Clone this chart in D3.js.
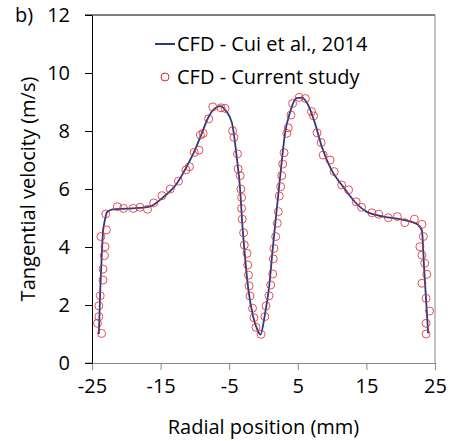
<!DOCTYPE html>
<html lang="en">
<head>
  <meta charset="UTF-8" />
  <title>Tangential velocity</title>
  <script src="https://d3js.org/d3.v7.min.js"></script>
  <style>
    body {
      margin: 0;
      padding: 0;
      background: #fff;
    }
    svg text {
      font-family: "Open Sans", sans-serif;
      fill: #000;
    }
  </style>
</head>
<body>
  <div id="chart"></div>

  <script>
    // reference curve (CFD - Cui et al., 2014)
    const cuiX = [-24.0, -23.8, -23.6, -23.4, -23.1, -22.8, -22.0, -20.0, -18.0, -16.5, -14.6, -12.6, -11.2, -10.0, -9.0, -8.1, -7.1, -6.3, -5.5, -4.6, -3.9, -3.4, -3.1, -2.7, -2.2, -1.5, -0.9, -0.45, 0.2, 0.85, 1.3, 1.8, 2.3, 2.65, 3.1, 3.9, 4.8, 5.6, 6.5, 7.5, 8.5, 9.9, 11.6, 13.3, 15.0, 17.5, 19.9, 21.8, 22.6, 23.1, 23.4, 23.7, 24.0];
    const cuiY = [1.0, 2.5, 3.6, 4.5, 4.95, 5.2, 5.3, 5.32, 5.35, 5.4, 5.72, 6.2, 6.77, 7.34, 7.92, 8.44, 8.78, 8.86, 8.7, 8.28, 7.1, 5.97, 4.82, 3.67, 2.52, 1.59, 1.15, 0.98, 1.66, 2.69, 3.83, 5.0, 6.14, 6.93, 7.86, 8.67, 9.13, 9.15, 8.9, 8.27, 7.46, 6.66, 6.08, 5.56, 5.22, 5.05, 4.96, 4.85, 4.75, 4.55, 3.32, 2.17, 1.02];

    // current study points
    const curX = [-23.6, -24.2, -24.0, -24.0, -23.8, -23.4, -23.4, -23.2, -23.1, -23.7, -22.9, -23.0,
      -21.3, -20.4, -19.0, -18.0, -16.9, -16.0, -14.8, -13.6, -12.4, -11.3, -10.8, -10.1, -9.4, -9.2, -8.8, -8.0, -7.4, -6.2, -5.6,
      -4.5, -4.3, -3.8, -3.7, -3.4, -3.3, -3.2, -3.2, -3.1, -2.9, -2.8, -2.4, -2.3, -2.2, -2.1, -1.97, -1.6, -1.4, -1.1, -0.36,
      0.2, 0.36, 0.8, 1.05, 1.34, 1.43, 1.53, 1.78, 2.0, 2.16, 2.3, 2.5, 2.65, 2.8, 3.0, 3.4, 3.6, 4.0, 4.25, 5.2, 6.1,
      7.0, 7.3, 7.8, 8.4, 8.7, 9.7, 10.3, 11.4, 12.4, 13.5, 14.3, 15.8, 16.8, 18.2, 19.5, 20.6, 22.0,
      23.1, 23.3, 22.8, 23.1, 23.5, 23.8, 23.1, 23.7, 24.2, 23.7, 23.7];
    const curY = [1.02, 1.37, 1.60, 1.97, 2.32, 2.86, 3.24, 3.70, 4.01, 4.36, 4.59, 5.14,
      5.39, 5.33, 5.33, 5.37, 5.30, 5.52, 5.77, 6.0, 6.27, 6.66, 6.77, 7.26, 7.34, 7.86, 7.92, 8.42, 8.83, 8.8, 8.78,
      8.01, 7.78, 7.21, 6.69, 6.46, 6.0, 5.71, 5.33, 4.96, 4.49, 4.07, 3.78, 3.38, 3.03, 2.66, 2.31, 1.89, 1.56, 1.23, 0.99,
      1.6, 1.97, 2.32, 2.69, 3.07, 3.59, 3.95, 4.36, 4.82, 5.22, 5.76, 6.08, 6.46, 6.86, 7.25, 7.92, 8.11, 8.55, 8.95, 9.16, 9.12,
      8.67, 8.52, 7.94, 7.6, 7.17, 7.0, 6.6, 6.14, 5.97, 5.56, 5.37, 5.18, 5.13, 5.01, 5.05, 4.84, 4.96,
      4.78, 4.36, 4.01, 3.72, 3.44, 3.06, 2.75, 2.23, 1.79, 1.37, 1.0];

    const xTicks = [-25, -15, -5, 5, 15, 25];
    const yTicks = [0, 2, 4, 6, 8, 10, 12];

    const width = 454, height = 441;
    const margin = { top: 15, right: 19, bottom: 78, left: 92 };
    const fs = "20px";

    const svg = d3.select("#chart").append("svg")
      .attr("width", width)
      .attr("height", height);

    const x = d3.scaleLinear().domain([-25, 25]).range([margin.left, width - margin.right]);
    const y = d3.scaleLinear().domain([0, 12]).range([height - margin.bottom, margin.top]);

    // top and right frame lines
    svg.append("line")
      .attr("x1", x(-25) - 7).attr("x2", x(25))
      .attr("y1", y(12)).attr("y2", y(12))
      .attr("stroke", "#000").attr("stroke-width", 1);
    svg.append("line")
      .attr("x1", x(25)).attr("x2", x(25))
      .attr("y1", y(12)).attr("y2", y(0))
      .attr("stroke", "#888").attr("stroke-width", 1);

    // x axis
    const xAxis = svg.append("g")
      .attr("transform", `translate(0,${y(0)})`)
      .call(d3.axisBottom(x).tickValues(xTicks).tickFormat(d => String(d))
        .tickSize(7).tickPadding(9).tickSizeOuter(0));
    xAxis.select(".domain").attr("stroke", "#888");
    xAxis.selectAll(".tick line").attr("stroke", "#888");
    xAxis.selectAll("text").style("font-size", fs);
    // small extension of the x axis to the left
    svg.append("line")
      .attr("x1", x(-25) - 7).attr("x2", x(-25))
      .attr("y1", y(0)).attr("y2", y(0))
      .attr("stroke", "#888");

    // y axis
    const yAxis = svg.append("g")
      .attr("transform", `translate(${x(-25)},0)`)
      .call(d3.axisLeft(y).tickValues(yTicks).tickFormat(d => String(d))
        .tickSize(7).tickPadding(15).tickSizeOuter(0));
    yAxis.select(".domain").attr("stroke", "#000");
    yAxis.selectAll(".tick line").attr("stroke", "#000");
    yAxis.selectAll("text").style("font-size", fs);

    // axis titles
    svg.append("text")
      .attr("x", (x(-25) + x(25)) / 2)
      .attr("y", 434)
      .attr("text-anchor", "middle")
      .style("font-size", fs)
      .text("Radial position (mm)");

    svg.append("text")
      .attr("transform", `translate(35,${(y(0) + y(12)) / 2}) rotate(-90)`)
      .attr("text-anchor", "middle")
      .style("font-size", fs)
      .text("Tangential velocity (m/s)");

    svg.append("text")
      .attr("x", 15)
      .attr("y", 22)
      .style("font-size", fs)
      .text("b)");

    // curve
    const cuiData = cuiX.map((v, i) => [v, cuiY[i]]);
    const line = d3.line()
      .x(d => x(d[0]))
      .y(d => y(d[1]))
      .curve(d3.curveMonotoneX);

    svg.append("path")
      .datum(cuiData)
      .attr("fill", "none")
      .attr("stroke", "#203F85")
      .attr("stroke-width", 1.8)
      .attr("d", line);

    // markers
    const curData = curX.map((v, i) => [v, curY[i]]);
    svg.selectAll("circle.pt")
      .data(curData)
      .enter().append("circle")
      .attr("class", "pt")
      .attr("cx", d => x(d[0]))
      .attr("cy", d => y(d[1]))
      .attr("r", 4)
      .attr("fill", "none")
      .attr("stroke", "#E0262B")
      .attr("stroke-opacity", 0.8)
      .attr("stroke-width", 1);

    // legend
    const legend = svg.append("g");
    legend.append("line")
      .attr("x1", 155).attr("x2", 175)
      .attr("y1", 44).attr("y2", 44)
      .attr("stroke", "#203F85").attr("stroke-width", 2);
    legend.append("text")
      .attr("x", 177).attr("y", 51)
      .style("font-size", fs)
      .text("CFD - Cui et al., 2014");
    legend.append("circle")
      .attr("cx", 165).attr("cy", 77)
      .attr("r", 4)
      .attr("fill", "none")
      .attr("stroke", "#E0262B")
      .attr("stroke-width", 1);
    legend.append("text")
      .attr("x", 177).attr("y", 84)
      .style("font-size", fs)
      .text("CFD - Current study");
  </script>
</body>
</html>
